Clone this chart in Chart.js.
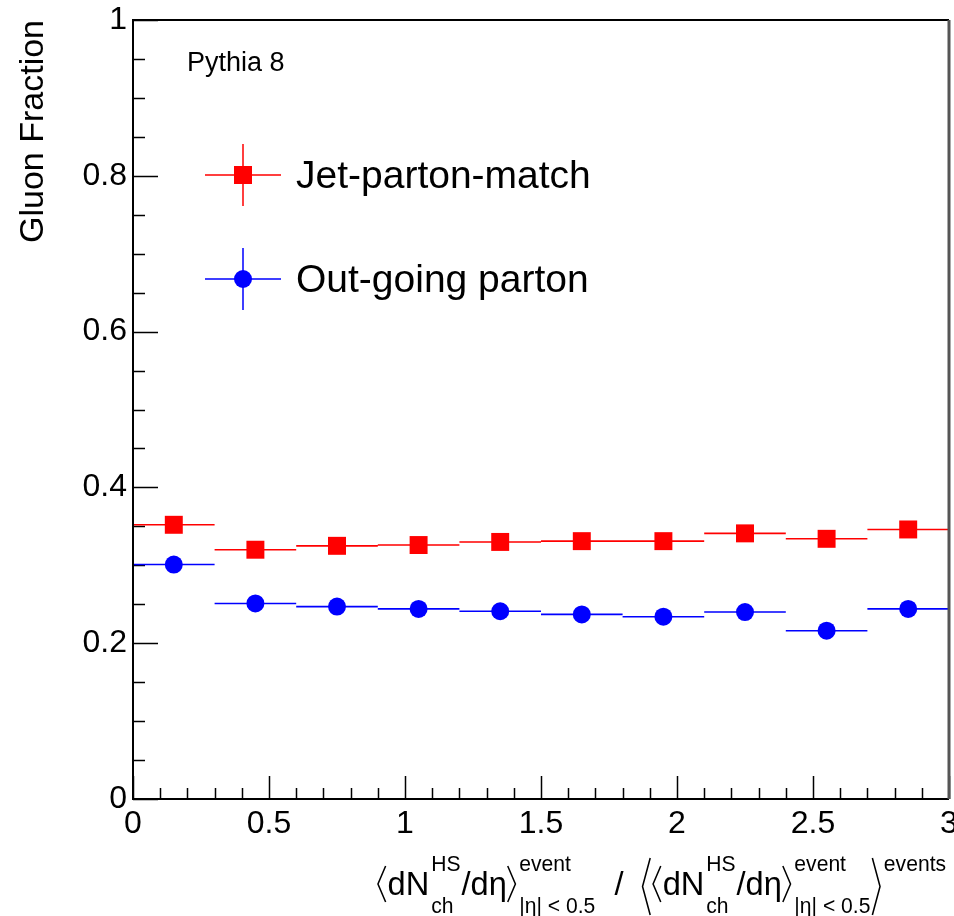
<!DOCTYPE html>
<html>
<head>
<meta charset="utf-8">
<script src="https://cdn.jsdelivr.net/npm/chart.js@4.4.1/dist/chart.umd.min.js"></script>
<style>
  html, body { margin: 0; padding: 0; background: #fff; }
</style>
</head>
<body>
<canvas id="myChart" width="954" height="916"></canvas>
<script>
// bins of the multiplicity ratio (x)
var binLow    = [0.0, 0.3, 0.6, 0.9, 1.2, 1.5, 1.8, 2.1, 2.4, 2.7];
var binHigh   = [0.3, 0.6, 0.9, 1.2, 1.5, 1.8, 2.1, 2.4, 2.7, 3.0];
var binCenter = [0.15, 0.45, 0.75, 1.05, 1.35, 1.65, 1.95, 2.25, 2.55, 2.85];

// gluon fraction per bin
var jetPartonMatch = [0.352, 0.320, 0.325, 0.326, 0.330, 0.331, 0.331, 0.341, 0.334, 0.346];
var outGoingParton = [0.301, 0.251, 0.247, 0.244, 0.241, 0.237, 0.234, 0.240, 0.216, 0.244];

var xTicks = [0, 0.5, 1, 1.5, 2, 2.5, 3];
var yTicks = [0, 0.2, 0.4, 0.6, 0.8, 1];

var FONT = "'Liberation Sans', Arial, Helvetica, sans-serif";
var RED = '#ff0000';
var BLUE = '#0000ff';

function points(vals) {
  return binCenter.map(function (x, i) { return { x: x, y: vals[i] }; });
}
// horizontal bin-width bars, broken between bins
function binBars(vals) {
  var out = [];
  vals.forEach(function (v, i) {
    out.push({ x: binLow[i], y: v });
    out.push({ x: binHigh[i], y: v });
    out.push({ x: binHigh[i], y: null });
  });
  return out;
}
function tickText(v) { return String(Math.round(v * 10) / 10); }

// ROOT-like inward ticks, frame and texts
var rootStyle = {
  id: 'rootStyle',
  beforeDatasetsDraw: function (chart) {
    var ctx = chart.ctx, a = chart.chartArea;
    var xs = chart.scales.x, ys = chart.scales.y;
    ctx.save();
    ctx.strokeStyle = '#000';
    ctx.lineWidth = 1.5;
    ctx.beginPath();
    for (var k = 0; k <= 20; k++) {
      var v = k * 0.05;
      var py = Math.round(ys.getPixelForValue(v)) + 0.5;
      var len = (k % 4 === 0) ? 25 : 12;
      ctx.moveTo(a.left, py); ctx.lineTo(a.left + len, py);
    }
    for (var j = 0; j <= 30; j++) {
      var u = j * 0.1;
      var px = Math.round(xs.getPixelForValue(u)) + 0.5;
      var l2 = (j % 5 === 0) ? 23 : 11;
      ctx.moveTo(px, a.bottom); ctx.lineTo(px, a.bottom - l2);
    }
    ctx.stroke();
    ctx.restore();
  },
  afterDraw: function (chart) {
    var ctx = chart.ctx, a = chart.chartArea;
    ctx.save();
    // frame
    ctx.lineWidth = 2;
    ctx.strokeStyle = '#000';
    ctx.beginPath();
    ctx.moveTo(a.right, a.top); ctx.lineTo(a.left, a.top);
    ctx.lineTo(a.left, a.bottom); ctx.lineTo(a.right, a.bottom);
    ctx.stroke();
    ctx.strokeStyle = '#555';
    ctx.lineWidth = 3;
    ctx.beginPath();
    ctx.moveTo(a.right, a.top); ctx.lineTo(a.right, a.bottom);
    ctx.stroke();

    ctx.fillStyle = '#000';
    // y title
    ctx.save();
    ctx.translate(43, a.top);
    ctx.rotate(-Math.PI / 2);
    ctx.font = '34px ' + FONT;
    ctx.textAlign = 'right';
    ctx.textBaseline = 'alphabetic';
    ctx.fillText('Gluon Fraction', 0, 0);
    ctx.restore();

    // generator label
    ctx.font = '27px ' + FONT;
    ctx.textAlign = 'left';
    ctx.textBaseline = 'alphabetic';
    ctx.fillText('Pythia 8', 187, 71);

    // legend
    var ds = chart.data.datasets;
    var entries = [
      { d: ds[0], cy: 175, base: 188 },
      { d: ds[1], cy: 279, base: 292 }
    ];
    entries.forEach(function (e) {
      ctx.strokeStyle = e.d.backgroundColor;
      ctx.fillStyle = e.d.backgroundColor;
      ctx.lineWidth = 1.5;
      ctx.beginPath();
      ctx.moveTo(205, e.cy); ctx.lineTo(281, e.cy);
      ctx.moveTo(243, e.cy - 31); ctx.lineTo(243, e.cy + 31);
      ctx.stroke();
      ctx.beginPath();
      if (e.d.pointStyle === 'rect') {
        ctx.rect(243 - 9, e.cy - 9, 18, 18);
      } else {
        ctx.arc(243, e.cy, 9, 0, Math.PI * 2);
      }
      ctx.fill();
      ctx.fillStyle = '#000';
      ctx.font = '39px ' + FONT;
      ctx.fillText(e.d.label, 296, e.base);
    });

    drawXTitle(ctx, 377, 947);
    ctx.restore();
  }
};

function drawXTitle(ctx, x0, x1) {
  var big = '34px ' + FONT, small = '22px ' + FONT;
  var base = 895, supBase = 871, subBase = 913;
  var eta = '\u03B7';
  var items = [
    { br: 'l', top: 866, bot: 902 },
    { t: 'dN' },
    { sup: 'HS', sub: 'ch' },
    { t: '/d' + eta },
    { br: 'r', top: 866, bot: 902 },
    { sup: 'event', sub: '|' + eta + '| < 0.5' },
    { t: '  /  ' },
    { br: 'l', top: 858, bot: 915 },
    { br: 'l', top: 866, bot: 902 },
    { t: 'dN' },
    { sup: 'HS', sub: 'ch' },
    { t: '/d' + eta },
    { br: 'r', top: 866, bot: 902 },
    { sup: 'event', sub: '|' + eta + '| < 0.5' },
    { br: 'r', top: 858, bot: 915 },
    { sup: 'events', sub: '' }
  ];
  var widths = items.map(function (it) {
    if (it.br) return 11;
    if (it.t) { ctx.font = big; return ctx.measureText(it.t).width; }
    ctx.font = small;
    return Math.max(ctx.measureText(it.sup).width, ctx.measureText(it.sub).width) + 3;
  });
  var total = widths.reduce(function (s, w) { return s + w; }, 0);
  var sx = (x1 - x0) / total;
  ctx.save();
  ctx.translate(x0, 0);
  ctx.scale(sx, 1);
  ctx.fillStyle = '#000';
  ctx.strokeStyle = '#000';
  ctx.textAlign = 'left';
  ctx.textBaseline = 'alphabetic';
  var x = 0;
  items.forEach(function (it, i) {
    if (it.br) {
      var mid = (it.top + it.bot) / 2;
      ctx.lineWidth = 1.6;
      ctx.beginPath();
      if (it.br === 'l') {
        ctx.moveTo(x + 9, it.top); ctx.lineTo(x + 1, mid); ctx.lineTo(x + 9, it.bot);
      } else {
        ctx.moveTo(x + 1, it.top); ctx.lineTo(x + 9, mid); ctx.lineTo(x + 1, it.bot);
      }
      ctx.stroke();
    } else if (it.t) {
      ctx.font = big;
      ctx.fillText(it.t, x, base);
    } else {
      ctx.font = small;
      ctx.fillText(it.sup, x + 2, supBase);
      ctx.fillText(it.sub, x + 2, subBase);
    }
    x += widths[i];
  });
  ctx.restore();
}

var ctx = document.getElementById('myChart').getContext('2d');
var myChart = new Chart(ctx, {
  type: 'scatter',
  data: {
    datasets: [
      {
        label: 'Jet-parton-match',
        data: points(jetPartonMatch),
        pointStyle: 'rect',
        pointRadius: 12.7,
        pointHoverRadius: 12.7,
        backgroundColor: RED,
        borderColor: RED,
        borderWidth: 0,
        clip: false,
        order: 0
      },
      {
        label: 'Out-going parton',
        data: points(outGoingParton),
        pointStyle: 'circle',
        pointRadius: 9,
        pointHoverRadius: 9,
        backgroundColor: BLUE,
        borderColor: BLUE,
        borderWidth: 0,
        clip: false,
        order: 0
      },
      {
        label: 'jet bins',
        data: binBars(jetPartonMatch),
        showLine: true,
        spanGaps: false,
        pointRadius: 0,
        borderColor: RED,
        borderWidth: 1.6,
        order: 1
      },
      {
        label: 'parton bins',
        data: binBars(outGoingParton),
        showLine: true,
        spanGaps: false,
        pointRadius: 0,
        borderColor: BLUE,
        borderWidth: 1.6,
        order: 1
      }
    ]
  },
  options: {
    responsive: false,
    animation: false,
    devicePixelRatio: 1,
    layout: { autoPadding: false, padding: { top: 20, right: 5, left: 0, bottom: 0 } },
    plugins: {
      legend: { display: false },
      title: { display: false },
      tooltip: { enabled: false }
    },
    events: [],
    scales: {
      x: {
        type: 'linear',
        min: 0,
        max: 3,
        afterBuildTicks: function (s) { s.ticks = xTicks.map(function (v) { return { value: v }; }); },
        afterFit: function (s) { s.height = 117; s.paddingLeft = 0; s.paddingRight = 0; },
        grid: { display: false, drawTicks: false },
        border: { display: false },
        ticks: { color: '#000', font: { family: FONT, size: 32 }, padding: 6, maxRotation: 0, autoSkip: false, callback: tickText }
      },
      y: {
        type: 'linear',
        min: 0,
        max: 1,
        afterBuildTicks: function (s) { s.ticks = yTicks.map(function (v) { return { value: v }; }); },
        afterFit: function (s) { s.width = 133; s.paddingTop = 0; s.paddingBottom = 0; },
        grid: { display: false, drawTicks: false },
        border: { display: false },
        ticks: { color: '#000', font: { family: FONT, size: 32 }, padding: 6, callback: tickText }
      }
    }
  },
  plugins: [rootStyle]
});
</script>
</body>
</html>
